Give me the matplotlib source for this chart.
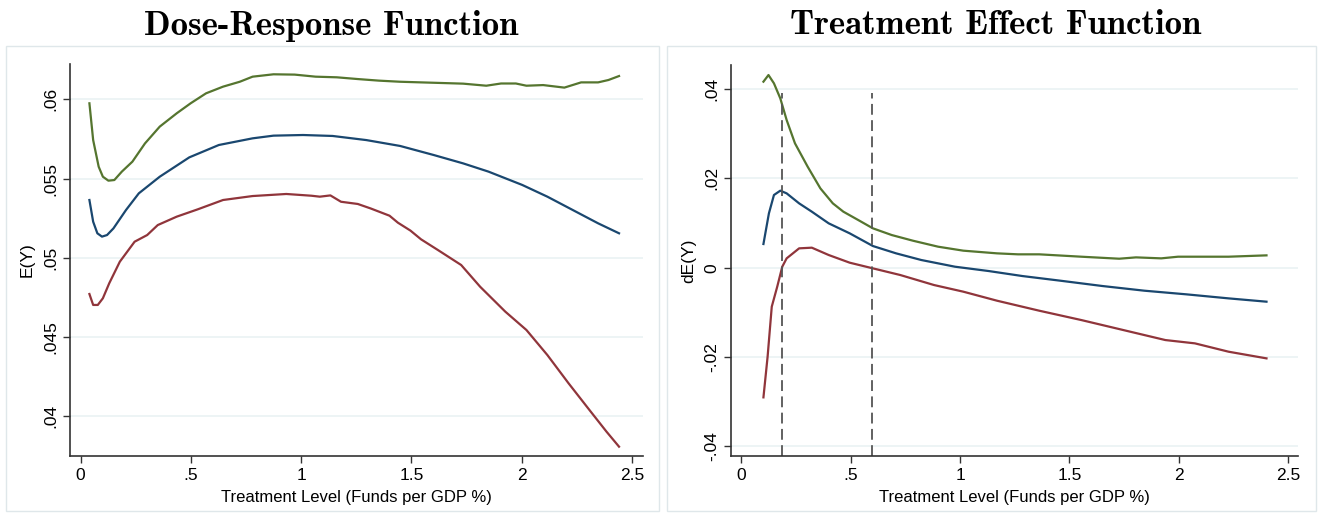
import matplotlib
matplotlib.use("Agg")
import matplotlib.pyplot as plt
from matplotlib.patches import Rectangle

# Dose-response (E(Y))
dr_x_up = [0.04, 0.057, 0.082, 0.101, 0.126, 0.153, 0.187, 0.235, 0.292, 0.359, 0.436, 0.499,
           0.569, 0.646, 0.722, 0.78, 0.875, 0.971, 1.066, 1.162, 1.257, 1.353, 1.449, 1.544,
           1.64, 1.735, 1.84, 1.907, 1.974, 2.022, 2.098, 2.194, 2.27, 2.347, 2.394, 2.442]
dr_up = [0.05975, 0.05743, 0.05575, 0.05512, 0.05487, 0.05491, 0.05544, 0.05607, 0.05722,
         0.05828, 0.05912, 0.05975, 0.06038, 0.0608, 0.06111, 0.06143, 0.06158, 0.06156,
         0.06143, 0.06139, 0.06128, 0.06118, 0.06111, 0.06107, 0.06103, 0.06099, 0.06086,
         0.061, 0.061, 0.06086, 0.0609, 0.06074, 0.06107, 0.06107, 0.06122, 0.06147]

dr_x_mid = [0.04, 0.057, 0.076, 0.097, 0.12, 0.149, 0.206, 0.264, 0.359, 0.493, 0.627, 0.78,
            0.875, 1.009, 1.143, 1.296, 1.449, 1.601, 1.735, 1.85, 2.003, 2.117, 2.232, 2.347, 2.442]
dr_mid = [0.05365, 0.05228, 0.05155, 0.05134, 0.05144, 0.05186, 0.05302, 0.05407, 0.05512,
          0.05634, 0.05712, 0.05754, 0.05771, 0.05775, 0.05769, 0.05743, 0.05706, 0.05649,
          0.05596, 0.05544, 0.0546, 0.05386, 0.05302, 0.05218, 0.05155]

dr_x_lo = [0.04, 0.057, 0.078, 0.101, 0.13, 0.178, 0.245, 0.302, 0.35, 0.436, 0.531, 0.646,
           0.78, 0.933, 1.047, 1.085, 1.133, 1.181, 1.257, 1.315, 1.401, 1.439, 1.496, 1.544,
           1.62, 1.726, 1.812, 1.926, 2.022, 2.117, 2.213, 2.308, 2.385, 2.442]
dr_lo = [0.04772, 0.04703, 0.04703, 0.04745, 0.0484, 0.04976, 0.05102, 0.05144, 0.05207,
         0.0526, 0.05306, 0.05365, 0.0539, 0.05403, 0.05392, 0.05386, 0.05394, 0.05354,
         0.0534, 0.05312, 0.05266, 0.05222, 0.05172, 0.05117, 0.0505, 0.04955, 0.04818,
         0.04661, 0.04545, 0.04387, 0.04209, 0.0404, 0.03904, 0.03809]

# Treatment effect (dE(Y))
te_x_up = [0.102, 0.125, 0.15, 0.179, 0.208, 0.246, 0.304, 0.362, 0.419, 0.467, 0.535, 0.602,
           0.688, 0.785, 0.9, 1.015, 1.169, 1.265, 1.362, 1.554, 1.727, 1.804, 1.919, 1.996,
           2.227, 2.4]
te_up = [0.04164, 0.04313, 0.04127, 0.03791, 0.03306, 0.02784, 0.02261, 0.01776, 0.0144,
         0.01254, 0.01067, 0.00881, 0.00731, 0.00604, 0.0047, 0.00381, 0.00321, 0.00299,
         0.00299, 0.00246, 0.00201, 0.00231, 0.00209, 0.00246, 0.00246, 0.00276]

te_x_mid = [0.102, 0.112, 0.127, 0.15, 0.179, 0.208, 0.265, 0.323, 0.4, 0.496, 0.602, 0.708,
            0.823, 0.977, 1.131, 1.285, 1.458, 1.65, 1.842, 2.035, 2.227, 2.4]
te_mid = [0.0053, 0.00806, 0.01216, 0.01627, 0.01724, 0.01664, 0.0144, 0.01254, 0.00993,
          0.00769, 0.00485, 0.00321, 0.00172, 0.00022, -0.00075, -0.00187, -0.00291, -0.0041,
          -0.00515, -0.00597, -0.00687, -0.00761]

te_x_lo = [0.102, 0.121, 0.14, 0.165, 0.188, 0.208, 0.265, 0.323, 0.4, 0.496, 0.602, 0.727,
           0.881, 1.015, 1.169, 1.362, 1.554, 1.746, 1.938, 2.073, 2.227, 2.4]
te_lo = [-0.02903, -0.01993, -0.00873, -0.00425, 0.00022, 0.00209, 0.00433, 0.00448, 0.00284,
         0.00112, -0.00015, -0.00164, -0.00388, -0.00537, -0.00739, -0.00963, -0.01172,
         -0.01396, -0.0162, -0.01694, -0.01881, -0.0203]

te_vlines = [0.185, 0.6]

x_ticks = [0, 0.5, 1, 1.5, 2, 2.5]
x_labels = ["0", ".5", "1", "1.5", "2", "2.5"]
dr_ticks = [0.04, 0.045, 0.05, 0.055, 0.06]
dr_labels = [".04", ".045", ".05", ".055", ".06"]
te_ticks = [-0.04, -0.02, 0, 0.02, 0.04]
te_labels = ["-.04", "-.02", "0", ".02", ".04"]

navy = "#1a476f"
maroon = "#90353b"
green = "#55752f"
grid_col = "#eaf2f3"
sans = ["Liberation Sans Narrow", "Liberation Sans", "DejaVu Sans"]

fig = plt.figure(figsize=(13.21, 5.14), dpi=100)

# light outlines around each panel
for x0, w in [(0.0045, 0.494), (0.505, 0.491)]:
    fig.add_artist(Rectangle((x0, 0.006), w, 0.905, transform=fig.transFigure,
                             fill=False, edgecolor="#dfe7ea", linewidth=1))

ax1 = fig.add_axes([0.053, 0.1128, 0.4338, 0.7627])
ax2 = fig.add_axes([0.5534, 0.1128, 0.4292, 0.7607])


def style(ax, yticks, ylabels, ylabel):
    for s in ["top", "right"]:
        ax.spines[s].set_visible(False)
    for s in ["left", "bottom"]:
        ax.spines[s].set_color("#333333")
        ax.spines[s].set_linewidth(1.2)
    ax.set_xticks(x_ticks)
    ax.set_xticklabels(x_labels, family=sans, fontsize=12.5)
    ax.set_yticks(yticks)
    ax.set_yticklabels(ylabels, family=sans, fontsize=12.5, rotation=90, va="center")
    ax.tick_params(length=5, width=1, color="#333333")
    ax.set_axisbelow(True)
    ax.grid(axis="y", color=grid_col, linewidth=1.2)
    ax.set_xlabel("Treatment Level (Funds per GDP %)", family=sans, fontsize=12, labelpad=5)
    ax.set_ylabel(ylabel, family=sans, fontsize=12.5, labelpad=6)


ax1.plot(dr_x_up, dr_up, color=green, lw=1.6)
ax1.plot(dr_x_mid, dr_mid, color=navy, lw=1.6)
ax1.plot(dr_x_lo, dr_lo, color=maroon, lw=1.6)
ax1.set_xlim(-0.048, 2.551)
ax1.set_ylim(0.0375, 0.06223)
style(ax1, dr_ticks, dr_labels, "E(Y)")

ax2.plot(te_x_up, te_up, color=green, lw=1.6)
ax2.plot(te_x_mid, te_mid, color=navy, lw=1.6)
ax2.plot(te_x_lo, te_lo, color=maroon, lw=1.6)
ax2.set_xlim(-0.046, 2.544)
ax2.set_ylim(-0.04216, 0.04537)
ax2.vlines(te_vlines, -0.04216, 0.0392, colors="#555555", linestyles=(0, (6, 3)), lw=1.3)
style(ax2, te_ticks, te_labels, "dE(Y)")

fig.text(0.251, 0.950, "Dose-Response Function", family="cmb10", fontsize=25,
         ha="center", va="center")
fig.text(0.754, 0.950, "Treatment Effect Function", family="cmb10", fontsize=25,
         ha="center", va="center")

fig.savefig("out.png", dpi=100)
